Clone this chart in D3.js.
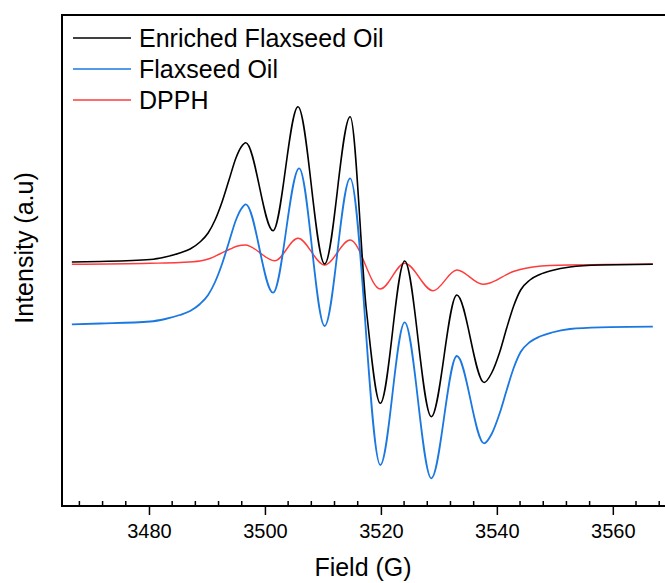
<!DOCTYPE html>
<html>
<head>
<meta charset="utf-8">
<script src="https://cdn.jsdelivr.net/npm/d3@7"></script>
<style>
  body { margin: 0; background: #fff; }
  text { font-family: "Liberation Sans", Arial, sans-serif; fill: #000; }
</style>
</head>
<body>
<div id="epr"></div>
<script>
var width = 665
    height = 583

// spectra (field in G, intensity in a.u.)
var fieldEnriched = [3466.7, 3471.6, 3480.2, 3482.8, 3485.3, 3487.1, 3488.8, 3490.2, 3491.4, 3492.6, 3493.8, 3495.0, 3495.9, 3496.7, 3501.4, 3505.7, 3510.3, 3514.7, 3517.5, 3519.9, 3524.1, 3528.7, 3533.1, 3537.8, 3539.1, 3540.5, 3541.7, 3542.9, 3544.1, 3545.7, 3547.4, 3549.5, 3552.6, 3557.8, 3566.9]
var enriched = [244, 244.5, 246.5, 249, 253, 257, 264, 273, 286, 304, 326, 348, 359, 363.3, 275.3, 399.3, 242, 389.3, 196, 102.7, 245, 89.3, 211, 123.5, 133, 154, 178, 200, 216, 226, 231.5, 235.5, 239, 241, 241.7]

var fieldFlax = [3466.7, 3471.6, 3480.2, 3482.8, 3485.3, 3487.1, 3488.8, 3490.2, 3491.4, 3492.6, 3493.8, 3495.0, 3495.9, 3496.7, 3501.4, 3505.9, 3510.3, 3514.7, 3519.9, 3524.1, 3528.7, 3533.1, 3537.8, 3539.1, 3540.5, 3541.7, 3542.9, 3544.1, 3545.7, 3547.4, 3549.5, 3552.6, 3557.8, 3566.9]
var flaxseed = [181.7, 182.5, 184.5, 187, 191, 195, 202, 211, 224, 242, 264, 286, 297, 301.7, 213.3, 337.7, 180, 327.7, 41, 183.7, 27.7, 150, 62.7, 72, 93, 116, 138, 154, 164, 169.5, 173.5, 177, 178.7, 179.3]

var fieldDpph = [3466.7, 3480.2, 3485.3, 3488.8, 3490.5, 3492.2, 3494.0, 3495.3, 3496.6, 3501.7, 3505.7, 3510.3, 3514.7, 3519.9, 3524.1, 3529.0, 3533.1, 3537.6, 3538.8, 3540.0, 3541.4, 3542.6, 3544.0, 3546.2, 3549.1, 3566.9]
var dpph = [241.7, 242.7, 243.5, 245, 247.5, 252, 257, 260, 261, 245.3, 267.7, 241, 266, 217, 242.7, 215.3, 236, 221.7, 223, 226, 230.5, 234, 236.5, 239, 240.5, 242]

var seriesNames = ["Enriched Flaxseed Oil", "Flaxseed Oil", "DPPH"]
var seriesColors = ["#000000", "#1a78e0", "#ff3b3b"]
var majorTicks = [3480, 3500, 3520, 3540, 3560]

var svg = d3.select("#epr")
  .append("svg")
    .attr("width", width)
    .attr("height", height)

// plot frame: left 62, top 15, bottom 506, right side runs off the page
var x = d3.scaleLinear()
  .domain([3465, 3569])
  .range([62, 665])

var y = d3.scaleLinear()
  .domain([0, 491])
  .range([506, 15])

var line = d3.line()
  .x(function(d) { return x(d[0]) })
  .y(function(d) { return y(d[1]) })
  .curve(d3.curveMonotoneX)

var series = [
  d3.zip(fieldEnriched, enriched),
  d3.zip(fieldFlax, flaxseed),
  d3.zip(fieldDpph, dpph)
]
var widths = [1.6, 1.8, 1.4]

// draw red first, then blue, black on top
svg.selectAll("spectra")
  .data([2, 1, 0])
  .enter()
  .append("path")
    .attr("d", function(i) { return line(series[i]) })
    .attr("fill", "none")
    .attr("stroke", function(i) { return seriesColors[i] })
    .attr("stroke-width", function(i) { return widths[i] })

// frame lines
svg.append("path")
  .attr("d", "M700,15H62V506H700")
  .attr("fill", "none")
  .attr("stroke", "#000")
  .attr("stroke-width", 2)

// major ticks go outside, minor ticks inside
var xAxis = d3.axisBottom(x)
  .tickValues(majorTicks)
  .tickSize(9)
  .tickPadding(9)
  .tickFormat(d3.format("d"))

var gx = svg.append("g")
  .attr("transform", "translate(0,506)")
  .call(xAxis)
gx.select(".domain").remove()
gx.selectAll(".tick line").attr("stroke-width", 1.5)
gx.selectAll(".tick text")
  .style("font-size", "20px")
  .style("font-family", "'Liberation Sans', Arial, sans-serif")

var minor = d3.range(3468, 3569, 4).filter(function(v) { return (v - 3480) % 20 != 0 })
svg.selectAll("minorTicks")
  .data(minor)
  .enter()
  .append("line")
    .attr("x1", function(d) { return x(d) })
    .attr("x2", function(d) { return x(d) })
    .attr("y1", 506)
    .attr("y2", 501)
    .attr("stroke", "#000")
    .attr("stroke-width", 1.5)

// axis titles
svg.append("text")
  .attr("x", 363)
  .attr("y", 576)
  .attr("text-anchor", "middle")
  .style("font-size", "25px")
  .text("Field (G)")

svg.append("text")
  .attr("transform", "translate(33,248) rotate(-90)")
  .attr("text-anchor", "middle")
  .style("font-size", "25px")
  .text("Intensity (a.u)")

// legend
var legend = svg.selectAll("legendRows")
  .data(seriesNames)
  .enter()
  .append("g")
    .attr("transform", function(d, i) { return "translate(73," + (38 + i * 31) + ")" })

legend.append("line")
  .attr("x1", 0)
  .attr("x2", 58)
  .attr("stroke", function(d, i) { return seriesColors[i] })
  .attr("stroke-width", 1.5)

legend.append("text")
  .attr("x", 66)
  .attr("dy", "0.35em")
  .style("font-size", "25px")
  .text(function(d) { return d })
</script>
</body>
</html>
